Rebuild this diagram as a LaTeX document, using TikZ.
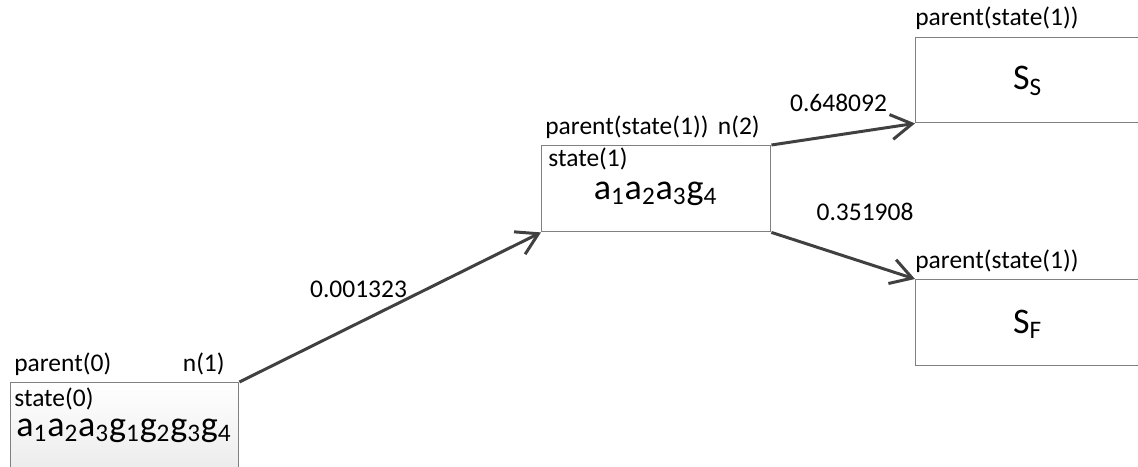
\documentclass[tikz,border=0pt]{standalone}
\usepackage{fontspec}
\setmainfont{Carlito}
\usetikzlibrary{arrows.meta,positioning}
\tikzset{
  statebox/.style={draw=black!50,line width=0.8pt,anchor=north west,inner sep=0pt},
  tag/.style={font=\fontsize{14.5}{17}\selectfont,inner sep=0pt},
  big/.style={font=\fontsize{20.5}{24}\selectfont,inner sep=0pt,anchor=base},
  link/.style={draw=black!75,line width=1.7pt,-{Straight Barb[length=0.42cm,width=0.5cm]}},
}
\begin{document}
\begin{tikzpicture}
\useasboundingbox (0,0) rectangle (22.76,9.32);
%
\node[statebox,minimum width=4.56cm,minimum height=2.1cm,top color=white,middle color=white,bottom color=black!9] (s0) at (0.2,1.68) {};
\node[statebox,minimum width=4.58cm,minimum height=1.72cm] (s1) at (10.82,6.42) {};
\node[statebox,minimum width=5cm,minimum height=1.7cm] (ss) at (18.3,8.58) {};
\node[statebox,minimum width=5cm,minimum height=1.72cm] (sf) at (18.3,3.74) {};
%
\node[tag,anchor=base west] (p0) at (0.28,1.9) {parent(0)};
\node[tag,anchor=base east] (n0) at (4.5,1.9) {n(1)};
\node[tag,anchor=base west] (t0) at (0.28,1.2) {state(0)};
\node[big] (v0) at (2.48,0.6) {a\textsubscript{1}a\textsubscript{2}a\textsubscript{3}g\textsubscript{1}g\textsubscript{2}g\textsubscript{3}g\textsubscript{4}};
%
\node[tag,anchor=base west] (p1) at (10.9,6.62) {parent(state(1))};
\node[tag,anchor=base east] (n1) at (15.2,6.62) {n(2)};
\node[tag,anchor=base west] (t1) at (10.96,5.98) {state(1)};
\node[big] (v1) at (13.11,5.34) {a\textsubscript{1}a\textsubscript{2}a\textsubscript{3}g\textsubscript{4}};
%
\node[tag,anchor=base west] (ps) at (18.3,8.8) {parent(state(1))};
\node[big] (vs) at (20.55,7.52) {S\textsubscript{S}};
\node[tag,anchor=base west] (pf) at (18.3,3.96) {parent(state(1))};
\node[big] (vf) at (20.55,2.66) {S\textsubscript{F}};
%
\draw[link] (s0.north east) -- (s1.south west);
\draw[link] (s1.north east) -- (ss.south west);
\draw[link] (s1.south east) -- (sf.north west);
%
\node[tag,anchor=base] (w0) at (7.17,3.38) {0.001323};
\node[tag,anchor=base] (ws) at (16.77,7.08) {0.648092};
\node[tag,anchor=base] (wf) at (17.3,4.92) {0.351908};
\end{tikzpicture}
\end{document}
